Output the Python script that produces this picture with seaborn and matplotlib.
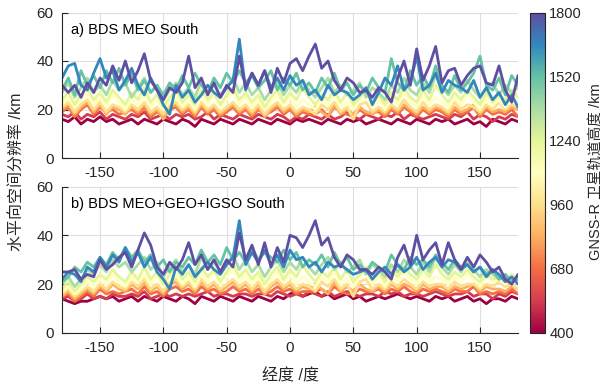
import matplotlib
matplotlib.use("Agg")
import numpy as np
import pandas as pd
import seaborn as sns
import matplotlib.pyplot as plt
from matplotlib.colors import Normalize
from matplotlib.cm import ScalarMappable

# ---------------- data ----------------
lon = list(range(-180, 181, 5))
altitudes = [400, 540, 680, 820, 960, 1100, 1240, 1380, 1520, 1660, 1800]
cbar_ticks = [400, 680, 960, 1240, 1520, 1800]
xticks = [-150, -100, -50, 0, 50, 100, 150]
yticks = [0, 20, 40, 60]

# panel a) BDS MEO South
a_1800 = [30,27,30,25,31,27,33,30,38,32, 40,31,36,43,32,28,24,29,27,31,
          42,29,33,26,31,25,30,27,42,29, 35,30,36,27,37,31,39,41,36,42,
          47,37,40,32,28,33,31,27,28,25, 29,27,23,33,40,30,45,32,38,46,
          31,36,37,30,34,37,38,31,30,38, 28,23,34]
a_1660 = [33,38,39,30,28,35,41,33,36,28, 32,37,30,26,33,28,22,18,30,25,
          28,23,26,30,27,25,29,32,49,28, 35,30,36,29,33,28,34,30,32,26,
          28,24,30,26,28,27,24,26,29,22, 27,33,30,38,28,31,42,28,30,35,
          27,32,30,29,27,32,25,29,24,27, 22,26,21]
a_1520 = [28,33,26,36,30,34,29,36,31,37, 30,35,28,32,27,30,26,31,28,34,
          29,35,30,27,33,29,35,31,36,31, 34,29,32,36,28,33,30,35,28,31,
          27,33,29,35,28,31,26,30,27,33, 29,27,41,31,28,36,30,34,29,38,
          30,27,34,28,31,35,42,30,28,33, 26,34,30]
a_1380 = [27,31,25,29,33,27,30,26,32,28, 31,25,29,33,27,30,24,28,31,26,
          29,25,32,27,30,26,29,33,27,31, 26,29,24,28,31,26,30,27,32,28,
          25,29,33,27,30,26,28,31,25,29, 27,24,30,27,33,28,26,31,27,34,
          29,26,30,27,32,28,25,29,31,26, 30,27,29]
a_1240 = [24,27,22,26,29,24,27,23,28,25, 22,27,24,29,23,26,21,25,28,23,
          26,22,28,24,27,22,26,29,24,27, 23,26,21,25,28,23,27,24,29,25,
          22,26,24,28,23,27,22,25,28,23, 26,22,27,24,29,25,23,28,24,30,
          26,23,27,24,28,25,22,27,23,26, 24,28,25]
a_1100 = [22,25,21,24,27,22,25,21,26,23, 20,24,22,26,21,24,20,23,25,21,
          24,20,25,22,26,21,24,27,22,25, 21,24,20,23,26,22,25,21,24,22,
          20,24,22,26,21,23,20,24,26,21, 24,20,25,22,27,23,21,26,22,25,
          23,21,25,22,26,23,20,25,22,24, 21,25,23]
a_960 = [21,23,19,22,24,20,23,19,22,21, 19,22,20,23,19,21,18,22,23,20,
         22,19,23,20,22,19,21,23,20,22, 19,22,18,21,23,20,22,19,21,20,
         18,22,20,23,19,21,16,22,23,19, 21,19,22,20,24,21,19,23,20,22,
         21,19,23,20,22,21,19,22,20,23, 20,22,21]
a_820 = [20,22,18,21,23,19,22,18,21,20, 18,21,19,22,18,20,16,21,22,19,
         21,18,22,19,21,18,20,22,19,21, 18,21,17,20,22,19,21,18,20,19,
         21,19,17,22,18,20,18,21,19,18, 20,18,21,19,22,20,18,21,19,21,
         20,18,21,19,20,22,18,21,19,20, 19,21,20]
a_680 = [19,21,17,20,22,18,21,19,20,18, 19,20,18,21,17,19,17,20,21,18,
         20,17,21,18,20,17,19,21,18,20, 17,20,18,19,21,18,20,17,19,18,
         18,20,17,21,19,18,17,20,18,19, 19,17,20,18,21,19,17,20,18,20,
         19,17,20,18,19,21,17,20,18,19, 18,20,17]
a_540 = [18,17,19,16,18,17,19,16,18,17, 16,18,17,19,16,17,18,16,18,17,
         18,16,17,19,16,18,17,16,18,17, 16,18,17,16,18,17,15,17,16,18,
         17,16,18,16,17,19,17,16,18,17, 16,18,17,19,16,18,17,16,17,18,
         17,16,18,17,19,16,18,17,15,17, 16,18,17]
a_400 = [16,15,17,14,16,15,17,15,16,14, 15,16,14,16,15,14,16,15,14,16,
         15,13,16,15,14,16,15,14,16,15, 14,16,15,14,16,15,14,16,15,16,
         15,14,16,15,14,16,15,16,14,15, 16,15,14,16,15,14,16,15,14,16,
         15,16,14,15,16,14,15,13,16,15, 14,16,15]

# panel b) BDS MEO+GEO+IGSO South
b_1800 = [25,25,26,22,24,23,30,26,28,31, 33,27,34,41,36,27,24,29,26,30,
          37,28,32,26,30,25,30,27,41,30, 36,28,37,27,35,29,40,39,35,40,
          46,36,39,31,27,32,30,26,26,24, 27,25,22,31,36,28,40,30,34,37,
          28,37,30,26,31,27,32,29,25,27, 22,20,24]
b_1660 = [22,25,24,21,27,25,31,27,32,29, 35,29,33,27,31,25,22,18,27,24,
          28,23,26,29,26,24,28,31,46,28, 33,29,34,28,32,27,34,30,31,27,
          29,25,29,27,28,26,24,25,26,22, 25,27,24,28,25,27,31,26,29,31,
          27,30,29,26,28,25,27,23,26,24, 21,23,20]
b_1520 = [21,23,27,25,29,27,31,28,33,30, 35,31,34,29,32,27,30,25,29,27,
          31,28,34,29,32,28,35,30,33,29, 35,30,33,31,29,34,30,33,27,30,
          28,32,27,33,28,31,26,28,25,29, 27,25,32,28,26,31,28,30,27,32,
          29,26,30,27,28,25,27,24,26,22, 24,21,22]
b_1380 = [20,23,19,22,26,24,28,25,30,27, 29,25,28,31,26,29,23,27,30,25,
          28,24,31,26,29,25,28,32,26,30, 25,28,23,27,30,25,29,26,31,27,
          24,28,31,26,29,25,27,30,24,28, 26,23,28,25,30,27,24,29,25,31,
          27,24,28,25,29,26,23,26,24,22, 24,21,23]
b_1240 = [18,21,17,20,23,21,24,22,26,23, 21,25,22,27,22,25,20,24,27,22,
          25,21,27,23,26,21,25,28,23,26, 22,25,20,24,27,22,26,23,28,24,
          21,25,23,27,22,26,21,24,27,22, 25,21,26,23,27,24,22,26,23,28,
          24,22,25,23,26,23,21,24,22,23, 21,24,22]
b_1100 = [17,19,16,18,21,19,22,20,24,21, 19,23,21,24,20,23,19,22,24,20,
          23,19,24,21,25,20,23,26,21,24, 20,23,19,22,25,21,24,20,23,21,
          19,23,21,25,20,22,19,23,25,20, 23,19,24,21,25,22,20,24,21,23,
          22,20,23,21,24,22,19,23,21,22, 20,22,21]
b_960 = [16,18,15,17,19,17,20,18,21,19, 18,21,19,22,18,20,17,21,22,19,
         21,18,22,19,21,18,20,22,19,21, 18,21,17,20,22,19,21,18,20,19,
         17,21,19,22,18,20,15,21,22,18, 20,18,21,19,22,20,18,21,19,20,
         20,18,21,19,20,20,18,20,19,21, 19,20,18]
b_820 = [15,17,14,16,18,16,19,17,20,18, 17,20,18,21,17,19,16,20,21,18,
         20,17,21,18,20,17,19,21,18,20, 17,20,16,19,21,18,20,17,19,18,
         20,18,16,21,17,19,17,20,18,17, 19,17,20,18,20,19,17,20,18,19,
         19,17,19,18,19,20,17,19,18,18, 17,19,18]
b_680 = [15,16,13,15,17,15,18,16,17,16, 17,18,16,19,16,17,15,18,19,17,
         18,16,19,17,18,16,17,19,17,18, 16,18,16,17,19,17,18,16,17,17,
         17,18,16,19,17,16,16,18,17,17, 18,16,18,17,19,17,16,18,17,18,
         17,16,18,17,17,19,16,17,16,17, 16,18,16]
b_540 = [14,15,13,14,16,14,15,14,16,15, 15,16,15,17,14,15,16,15,16,15,
         16,15,16,17,15,16,16,15,16,16, 15,16,16,15,17,16,15,16,15,17,
         16,15,17,15,16,17,16,15,16,16, 15,17,16,17,15,16,16,15,16,17,
         16,15,16,16,17,15,16,16,14,16, 15,17,16]
b_400 = [14,13,12,13,13,14,15,14,15,13, 14,15,13,15,14,13,15,14,13,15,
         14,12,15,14,13,15,14,13,15,14, 13,15,14,13,15,14,16,17,15,16,
         17,15,16,14,15,16,14,15,13,14, 15,14,15,16,15,14,15,14,13,15,
         14,15,13,14,15,13,14,12,14,14, 13,15,14]

panel_a = {400: a_400, 540: a_540, 680: a_680, 820: a_820, 960: a_960, 1100: a_1100,
           1240: a_1240, 1380: a_1380, 1520: a_1520, 1660: a_1660, 1800: a_1800}
panel_b = {400: b_400, 540: b_540, 680: b_680, 820: b_820, 960: b_960, 1100: b_1100,
           1240: b_1240, 1380: b_1380, 1520: b_1520, 1660: b_1660, 1800: b_1800}


def to_frame(d):
    rows = []
    for alt, vals in d.items():
        for x, v in zip(lon, vals):
            rows.append((x, v, alt))
    return pd.DataFrame(rows, columns=["lon", "res", "alt"])


# ---------------- style ----------------
sns.set_style("white")
plt.rcParams["font.family"] = ["Liberation Sans", "Noto Sans CJK SC", "DejaVu Sans"]
plt.rcParams["axes.unicode_minus"] = False

fig = plt.figure(figsize=(6.04, 3.88), dpi=100)
L, R = 62 / 604, 518 / 604
ax_a = fig.add_axes([L, 1 - 158 / 388, R - L, (158 - 12.5) / 388])
ax_b = fig.add_axes([L, 1 - 333 / 388, R - L, (333 - 186.5) / 388])
cax = fig.add_axes([530 / 604, 1 - 333 / 388, 15 / 604, (333 - 12.5) / 388])

tc = "#262626"
for ax, d, title in [(ax_a, panel_a, "a) BDS MEO South"),
                     (ax_b, panel_b, "b) BDS MEO+GEO+IGSO South")]:
    sns.lineplot(data=to_frame(d), x="lon", y="res", hue="alt", palette="Spectral",
                 hue_norm=(400, 1800), legend=False, linewidth=2.0, ax=ax,
                 estimator=None, sort=False)
    ax.set_xlim(-180, 180)
    ax.set_ylim(0, 60)
    ax.set_xticks(xticks)
    ax.set_yticks(yticks)
    ax.grid(True, color="#dedede", linewidth=0.8)
    ax.set_axisbelow(True)
    ax.set_xlabel("")
    ax.set_ylabel("")
    for s in ["top", "right"]:
        ax.spines[s].set_visible(False)
    for s in ["left", "bottom"]:
        ax.spines[s].set_color(tc)
        ax.spines[s].set_linewidth(0.8)
    ax.tick_params(direction="in", length=4, width=0.8, colors=tc, labelsize=11,
                   labelcolor=tc, bottom=True, left=True, pad=6)
    ax.text(0.02, 0.93, title, transform=ax.transAxes, fontsize=10.5, color="black",
            va="top", ha="left")

fig.text(0.028, (1 - 172 / 388), "水平向空间分辨率 /km", rotation=90, fontsize=11.5,
         color=tc, ha="center", va="center")
fig.text(290 / 604, 1 - 376 / 388, "经度 /度", fontsize=11.5, color=tc,
         ha="center", va="center")

sm = ScalarMappable(norm=Normalize(400, 1800), cmap="Spectral")
cb = fig.colorbar(sm, cax=cax, ticks=cbar_ticks)
cb.outline.set_edgecolor(tc)
cb.outline.set_linewidth(0.8)
cax.tick_params(direction="in", length=4, width=0.8, colors=tc, labelsize=10.5, pad=3)
fig.text(595.5 / 604, 1 - 172 / 388, "GNSS-R 卫星轨道高度 /km", rotation=90, fontsize=10.5,
         color=tc, ha="center", va="center")

fig.savefig("out.png", dpi=100)
